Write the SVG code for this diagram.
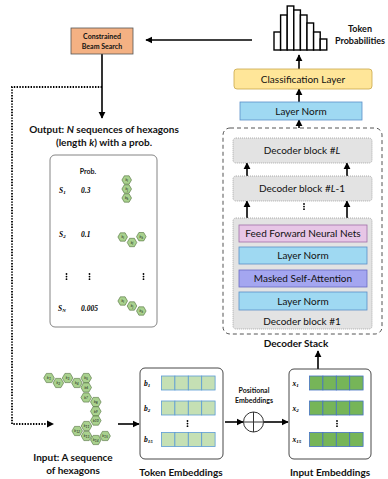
<svg xmlns="http://www.w3.org/2000/svg" width="388" height="479" viewBox="0 0 388 479">
  <style>
    text { font-family: Lato, "Liberation Sans", sans-serif; fill: #111; }
    .lbl { font-size: 10px; text-anchor: middle; }
    .cap { font-size: 10px; font-weight: bold; text-anchor: middle; }
    .cap9 { font-size: 9px; font-weight: bold; text-anchor: middle; }
    .small { font-size: 7px; font-weight: bold; text-anchor: middle; }
    .var { font-family: "Liberation Serif", serif; font-style: italic; font-weight: bold; font-size: 7.5px; fill: #000; }
    .s { font-size: 5px; }
    .arrow { stroke: #000; stroke-width: 1.6; fill: none; marker-end: url(#head); }
    .dot { stroke: #000; stroke-width: 1.8; fill: none; stroke-dasharray: 1.4 1.4; }
    .block { fill: #e3e3e3; stroke: #9a9a9a; stroke-width: 0.8; stroke-dasharray: 1 1; }
    .ln { fill: #9fd9f2; stroke: #5b8fc9; stroke-width: 0.8; }
    .msa { fill: #a4a6f0; stroke: #6a6cc4; stroke-width: 0.8; }
    .ffn { fill: #e7c6e6; stroke: #a06fa8; stroke-width: 0.8; }
    .hex { fill: #a9d18e; stroke: #4f6e3a; stroke-width: 0.6; }
    .hl { font-size: 3.4px; text-anchor: middle; fill: #333; font-family: "Liberation Serif", serif; font-style: italic; }
    .tok { fill: #c5e0b4; stroke: #5b9bd5; stroke-width: 0.8; }
    .inp { fill: #76b558; stroke: #4472c4; stroke-width: 0.8; }
    .vd { fill: #000; }
  </style>
  <defs>
    <marker id="head" viewBox="0 0 10 10" refX="9" refY="5" markerWidth="4.5" markerHeight="4.5" orient="auto" markerUnits="strokeWidth">
      <path d="M0,0 L10,5 L0,10 Z" fill="#000"/>
    </marker>
    <path id="hx" d="M5.3,0 L2.65,4.6 L-2.65,4.6 L-5.3,0 L-2.65,-4.6 L2.65,-4.6 Z"/>
    <path id="hxs" d="M4.8,0 L2.4,4.2 L-2.4,4.2 L-4.8,0 L-2.4,-4.2 L2.4,-4.2 Z"/>
    <g id="row">
      <rect x="0" y="0" width="13.4" height="14"/>
      <rect x="13.4" y="0" width="13.4" height="14"/>
      <rect x="26.8" y="0" width="13.4" height="14"/>
      <rect x="40.2" y="0" width="13.4" height="14"/>
    </g>
    <g id="vdots">
      <circle cx="0" cy="0" r="0.9"/>
      <circle cx="0" cy="2.6" r="0.9"/>
      <circle cx="0" cy="5.2" r="0.9"/>
    </g>
  </defs>

  <!-- connectors -->
  <g id="connectors">
    <line class="arrow" x1="252" y1="40" x2="146" y2="40"/>
    <line class="arrow" x1="102" y1="54" x2="102" y2="118"/>
    <path class="dot" d="M102,87 H12 V424 H48"/>
    <path d="M47,420.5 L54,424 L47,427.5 Z" fill="#000"/>
    <line class="arrow" x1="299" y1="69" x2="299" y2="55"/>
    <line class="arrow" x1="299" y1="102" x2="299" y2="89"/>
    <line class="arrow" x1="299" y1="128" x2="299" y2="120"/>
    <line class="arrow" x1="247" y1="176" x2="247" y2="163"/>
    <line class="arrow" x1="347" y1="176" x2="347" y2="163"/>
    <line class="arrow" x1="247" y1="218" x2="247" y2="201"/>
    <line class="arrow" x1="347" y1="218" x2="347" y2="201"/>
    <line class="arrow" x1="318" y1="369" x2="318" y2="351"/>
    <line class="arrow" x1="118" y1="424" x2="139" y2="424"/>
    <line class="arrow" x1="225" y1="422" x2="243" y2="422"/>
    <line class="arrow" x1="264" y1="422" x2="288" y2="422"/>
  </g>

  <!-- constrained beam search -->
  <g id="beam-search">
    <rect x="71" y="28" width="62" height="26" fill="#f4b183" stroke="#555" stroke-width="0.8"/>
    <text class="small" x="102" y="39">Constrained</text>
    <text class="small" x="102" y="48.5">Beam Search</text>
  </g>

  <!-- token probability histogram -->
  <g id="token-probabilities" fill="#fff" stroke="#000" stroke-width="1.4">
    <rect x="274" y="32" width="6.6" height="18"/>
    <rect x="280.6" y="15" width="6.6" height="35"/>
    <rect x="287.2" y="6" width="6.6" height="44"/>
    <rect x="293.8" y="10" width="6.6" height="40"/>
    <rect x="300.4" y="15" width="6.6" height="35"/>
    <rect x="307" y="23" width="6.6" height="27"/>
    <rect x="313.6" y="32" width="6.6" height="18"/>
    <rect x="320.2" y="39" width="6.6" height="11"/>
  </g>
  <g id="token-probabilities-label">
    <text class="cap9" x="360" y="32">Token</text>
    <text class="cap9" x="360" y="44">Probabilities</text>
  </g>

  <g id="classification-layer">
    <rect x="234" y="69" width="138" height="20" rx="3" fill="#ffe699" stroke="#c9a74a" stroke-width="0.8"/>
    <text class="lbl" x="303" y="82.5">Classification Layer</text>
  </g>
  <g id="final-layer-norm">
    <rect class="ln" x="240" y="102" width="122" height="18"/>
    <text class="lbl" x="301" y="114.5">Layer Norm</text>
  </g>

  <!-- decoder stack -->
  <g id="decoder-stack">
    <rect x="223" y="128" width="159" height="206" rx="7" fill="none" stroke="#555" stroke-width="1" stroke-dasharray="4 3"/>
    <text class="cap" x="296" y="347">Decoder Stack</text>
  </g>
  <g id="decoder-block-L">
    <rect class="block" x="233" y="138" width="139" height="25" rx="3"/>
    <text class="lbl" x="302" y="154">Decoder block #<tspan font-style="italic">L</tspan></text>
  </g>
  <g id="decoder-block-L-1">
    <rect class="block" x="233" y="176" width="139" height="25" rx="3"/>
    <text class="lbl" x="302" y="192">Decoder block #<tspan font-style="italic">L</tspan>-1</text>
  </g>
  <use href="#vdots" x="304" y="204" class="vd"/>
  <g id="decoder-block-1">
    <rect class="block" x="233" y="218" width="139" height="111" rx="3"/>
    <rect class="ffn" x="239" y="225" width="128" height="17"/>
    <text class="lbl" x="303" y="237">Feed Forward Neural Nets</text>
    <rect class="ln" x="239" y="247" width="128" height="17"/>
    <text class="lbl" x="303" y="259">Layer Norm</text>
    <rect class="msa" x="239" y="270" width="128" height="17"/>
    <text class="lbl" x="303" y="282">Masked Self-Attention</text>
    <rect class="ln" x="239" y="292" width="128" height="18"/>
    <text class="lbl" x="303" y="304.5">Layer Norm</text>
    <text class="lbl" x="302" y="325">Decoder block #1</text>
  </g>

  <!-- output sequences -->
  <g id="output-title">
    <text class="cap" x="104" y="133">Output: <tspan font-style="italic">N</tspan> sequences of hexagons</text>
    <text class="cap" x="104" y="146">(length <tspan font-style="italic">k</tspan>) with a prob.</text>
  </g>
  <g id="output-sequences">
    <rect x="50" y="155" width="107" height="172" rx="5" fill="#fff" stroke="#777" stroke-width="0.9"/>
    <text class="small" x="88" y="174">Prob.</text>
    <text class="var" x="59" y="192.5">S<tspan class="s" dy="1">1</tspan></text>
    <text class="var" x="81" y="192.5">0.3</text>
    <text class="var" x="59" y="236.5">S<tspan class="s" dy="1">2</tspan></text>
    <text class="var" x="81" y="236.5">0.1</text>
    <text class="var" x="58" y="311">S<tspan class="s" dy="1">N</tspan></text>
    <text class="var" x="81" y="311">0.005</text>
    <g class="vd">
      <use href="#vdots" x="66.5" y="274"/>
      <use href="#vdots" x="89.5" y="274"/>
      <use href="#vdots" x="143.5" y="274"/>
    </g>
    <g class="hex">
      <use href="#hxs" x="126.7" y="180"/>
      <use href="#hxs" x="126.7" y="189"/>
      <use href="#hxs" x="126.7" y="198"/>
      <use href="#hxs" x="122.7" y="237"/>
      <use href="#hxs" x="132" y="242.5"/>
      <use href="#hxs" x="141.3" y="236.7"/>
      <use href="#hxs" x="122.7" y="301"/>
      <use href="#hxs" x="132" y="306"/>
      <use href="#hxs" x="141.3" y="311"/>
    </g>
    <g class="hl">
      <text x="126.7" y="181.2">b<tspan dy="0.6">i</tspan></text>
      <text x="126.7" y="190.2">b<tspan dy="0.6">j</tspan></text>
      <text x="126.7" y="199.2">b<tspan dy="0.6">k</tspan></text>
      <text x="122.7" y="238.2">b<tspan dy="0.6">i</tspan></text>
      <text x="132" y="243.7">b<tspan dy="0.6">j</tspan></text>
      <text x="141.3" y="237.9">b<tspan dy="0.6">k</tspan></text>
      <text x="122.7" y="302.2">b<tspan dy="0.6">i</tspan></text>
      <text x="132" y="307.2">b<tspan dy="0.6">j</tspan></text>
      <text x="141.3" y="312.2">b<tspan dy="0.6">k</tspan></text>
    </g>
  </g>

  <!-- input hexagon sequence -->
  <g id="input-hexagons">
    <g class="hex">
      <use href="#hx" x="49" y="378"/>
      <use href="#hx" x="58.3" y="383"/>
      <use href="#hx" x="67.6" y="378"/>
      <use href="#hx" x="76.9" y="383"/>
      <use href="#hx" x="86.2" y="378"/>
      <use href="#hx" x="86.2" y="387.5"/>
      <use href="#hx" x="86.2" y="397.5"/>
      <use href="#hx" x="95.8" y="402"/>
      <use href="#hx" x="95.8" y="411.3"/>
      <use href="#hx" x="95.8" y="420.6"/>
      <use href="#hx" x="86.5" y="426"/>
      <use href="#hx" x="77.2" y="431"/>
      <use href="#hx" x="86.5" y="436"/>
      <use href="#hx" x="95.8" y="440"/>
      <use href="#hx" x="105.1" y="436"/>
    </g>
    <g class="hl">
      <text x="49" y="379.2">b<tspan dy="0.6">1</tspan></text>
      <text x="58.3" y="384.2">b<tspan dy="0.6">2</tspan></text>
      <text x="67.6" y="379.2">b<tspan dy="0.6">3</tspan></text>
      <text x="76.9" y="384.2">b<tspan dy="0.6">4</tspan></text>
      <text x="86.2" y="379.2">b<tspan dy="0.6">5</tspan></text>
      <text x="86.2" y="388.7">b<tspan dy="0.6">6</tspan></text>
      <text x="86.2" y="398.7">b<tspan dy="0.6">7</tspan></text>
      <text x="95.8" y="403.2">b<tspan dy="0.6">8</tspan></text>
      <text x="95.8" y="412.5">b<tspan dy="0.6">9</tspan></text>
      <text x="95.8" y="421.8">b<tspan dy="0.6">10</tspan></text>
      <text x="86.5" y="427.2">b<tspan dy="0.6">11</tspan></text>
      <text x="77.2" y="432.2">b<tspan dy="0.6">12</tspan></text>
      <text x="86.5" y="437.2">b<tspan dy="0.6">13</tspan></text>
      <text x="95.8" y="441.2">b<tspan dy="0.6">14</tspan></text>
      <text x="105.1" y="437.2">b<tspan dy="0.6">15</tspan></text>
    </g>
    <text class="cap" x="73" y="461">Input: A sequence</text>
    <text class="cap" x="73" y="474">of hexagons</text>
  </g>

  <!-- token embeddings -->
  <g id="token-embeddings">
    <rect x="140" y="368" width="83" height="91" rx="5" fill="#fff" stroke="#333" stroke-width="0.9"/>
    <text class="var" x="144" y="385.5">b<tspan class="s" dy="1">1</tspan></text>
    <text class="var" x="144" y="410.5">b<tspan class="s" dy="1">2</tspan></text>
    <text class="var" x="144" y="442">b<tspan class="s" dy="1">15</tspan></text>
    <g class="tok">
      <use href="#row" x="161.5" y="376"/>
      <use href="#row" x="161.5" y="401"/>
      <use href="#row" x="161.5" y="432.5"/>
    </g>
    <use href="#vdots" x="187.5" y="421" class="vd"/>
    <text class="cap" x="181" y="476">Token Embeddings</text>
  </g>

  <!-- positional embeddings -->
  <g id="positional-embeddings">
    <circle cx="253.5" cy="422" r="10" fill="#fff" stroke="#333" stroke-width="1"/>
    <line x1="243.5" y1="422" x2="263.5" y2="422" stroke="#333" stroke-width="1"/>
    <line x1="253.5" y1="412" x2="253.5" y2="432" stroke="#333" stroke-width="1"/>
    <text class="small" x="254" y="393">Positional</text>
    <text class="small" x="254" y="403">Embeddings</text>
  </g>

  <!-- input embeddings -->
  <g id="input-embeddings">
    <rect x="289" y="369" width="82" height="90" rx="5" fill="#fff" stroke="#333" stroke-width="0.9"/>
    <text class="var" x="292.5" y="385.5">x<tspan class="s" dy="1">1</tspan></text>
    <text class="var" x="292.5" y="410.5">x<tspan class="s" dy="1">2</tspan></text>
    <text class="var" x="292.5" y="442">x<tspan class="s" dy="1">15</tspan></text>
    <g class="inp">
      <use href="#row" x="309.5" y="376"/>
      <use href="#row" x="309.5" y="401"/>
      <use href="#row" x="309.5" y="432.5"/>
    </g>
    <use href="#vdots" x="337" y="421" class="vd"/>
    <text class="cap" x="330" y="476">Input Embeddings</text>
  </g>
</svg>
